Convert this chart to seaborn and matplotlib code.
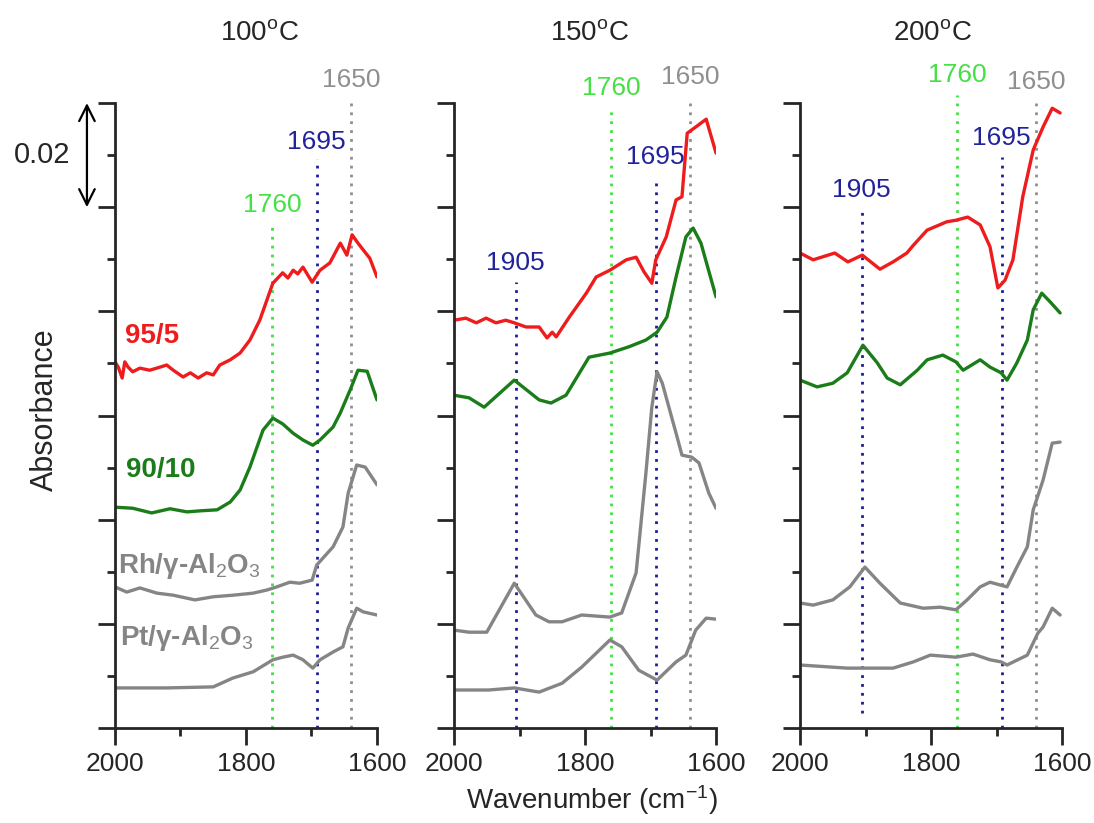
import matplotlib
matplotlib.use("Agg")
import matplotlib.pyplot as plt
import seaborn as sns

# spectra; absorbance in units of 0.01 (one y tick), offset stacked
temps = ["100", "150", "200"]

# 100 C
p100_red_wn = [2000, 1995, 1989, 1985, 1980, 1973, 1962, 1947, 1931, 1921, 1911, 1896, 1885, 1873, 1860,
               1850, 1840, 1824, 1809, 1794, 1779, 1768, 1759, 1744, 1736, 1728, 1721, 1713, 1699, 1687,
               1672, 1656, 1646, 1638, 1629, 1621, 1611, 1600]
p100_red_y = [7.03, 6.93, 6.72, 7.03, 6.93, 6.84, 6.91, 6.87, 6.93, 6.97, 6.87, 6.74, 6.82, 6.72, 6.82,
              6.78, 6.97, 7.07, 7.20, 7.45, 7.83, 8.22, 8.54, 8.74, 8.64, 8.79, 8.72, 8.85, 8.56, 8.79,
              8.93, 9.31, 9.08, 9.47, 9.31, 9.18, 9.02, 8.66]
p100_green_wn = [2000, 1973, 1944, 1916, 1890, 1870, 1844, 1824, 1809, 1794, 1774, 1759, 1744, 1728, 1713,
                 1698, 1687, 1667, 1656, 1641, 1629, 1615, 1600]
p100_green_y = [4.24, 4.22, 4.13, 4.21, 4.15, 4.17, 4.19, 4.34, 4.57, 5.01, 5.72, 5.95, 5.84, 5.66, 5.53,
                5.43, 5.53, 5.78, 6.05, 6.49, 6.87, 6.85, 6.30]
p100_rh_wn = [2000, 1982, 1962, 1936, 1911, 1878, 1850, 1820, 1789, 1768, 1753, 1733, 1718, 1699, 1692,
              1667, 1652, 1644, 1631, 1618, 1600]
p100_rh_y = [2.71, 2.61, 2.69, 2.59, 2.55, 2.46, 2.52, 2.55, 2.59, 2.65, 2.71, 2.80, 2.78, 2.84, 3.13,
             3.48, 3.86, 4.51, 5.05, 5.01, 4.67]
p100_pt_wn = [2000, 1921, 1850, 1820, 1789, 1759, 1744, 1728, 1713, 1698, 1687, 1667, 1652, 1644, 1631,
              1621, 1600]
p100_pt_y = [0.77, 0.77, 0.79, 0.96, 1.08, 1.31, 1.36, 1.40, 1.31, 1.15, 1.31, 1.46, 1.56, 1.92, 2.30,
             2.23, 2.17]

# 150 C
p150_red_wn = [2000, 1982, 1966, 1951, 1936, 1921, 1908, 1890, 1870, 1858, 1850, 1844, 1824, 1798, 1783,
               1762, 1737, 1722, 1710, 1698, 1692, 1676, 1661, 1652, 1644, 1631, 1615, 1600]
p150_red_y = [7.83, 7.87, 7.78, 7.87, 7.78, 7.83, 7.78, 7.70, 7.70, 7.49, 7.60, 7.51, 7.89, 8.35, 8.66,
              8.79, 8.99, 9.04, 8.76, 8.54, 8.99, 9.43, 10.14, 10.20, 11.42, 11.54, 11.69, 11.04]
p150_green_wn = [2000, 1977, 1954, 1908, 1870, 1852, 1829, 1794, 1762, 1733, 1707, 1690, 1675, 1661, 1646,
                 1635, 1623, 1600]
p150_green_y = [6.39, 6.34, 6.16, 6.68, 6.30, 6.24, 6.39, 7.12, 7.20, 7.32, 7.45, 7.60, 7.89, 8.66, 9.43,
                9.60, 9.31, 8.28]
p150_rh_wn = [2000, 1977, 1950, 1908, 1875, 1855, 1835, 1805, 1762, 1744, 1722, 1707, 1698, 1690, 1682,
              1661, 1652, 1637, 1626, 1611, 1600]
p150_rh_y = [1.88, 1.84, 1.84, 2.78, 2.17, 2.04, 2.04, 2.17, 2.13, 2.21, 2.98, 4.90, 6.16, 6.84, 6.62,
             5.66, 5.24, 5.20, 5.09, 4.51, 4.22]
p150_pt_wn = [2000, 1947, 1908, 1870, 1835, 1805, 1762, 1744, 1718, 1690, 1661, 1646, 1631, 1615, 1600]
p150_pt_y = [0.73, 0.73, 0.77, 0.69, 0.86, 1.17, 1.69, 1.56, 1.11, 0.92, 1.27, 1.40, 1.88, 2.11, 2.09]

# 200 C
p200_red_wn = [2000, 1980, 1947, 1927, 1905, 1878, 1858, 1837, 1827, 1806, 1776, 1762, 1744, 1725, 1710,
               1698, 1687, 1675, 1660, 1644, 1629, 1615, 1603]
p200_red_y = [9.12, 8.99, 9.12, 8.95, 9.08, 8.81, 8.95, 9.12, 9.27, 9.56, 9.72, 9.75, 9.81, 9.66, 9.24,
              8.45, 8.60, 8.99, 10.20, 11.10, 11.54, 11.90, 11.81]
p200_green_wn = [2000, 1974, 1950, 1928, 1904, 1882, 1867, 1847, 1821, 1806, 1782, 1762, 1751, 1725, 1710,
                 1693, 1684, 1669, 1653, 1644, 1631, 1618, 1603]
p200_green_y = [6.68, 6.55, 6.62, 6.82, 7.35, 7.01, 6.72, 6.59, 6.87, 7.07, 7.16, 7.03, 6.87, 7.07, 6.93,
                6.82, 6.68, 7.01, 7.45, 8.03, 8.35, 8.18, 7.97]
p200_rh_wn = [2000, 1980, 1950, 1924, 1901, 1878, 1847, 1812, 1786, 1762, 1745, 1725, 1710, 1684, 1669,
              1653, 1644, 1629, 1615, 1603]
p200_rh_y = [2.40, 2.36, 2.46, 2.71, 3.09, 2.78, 2.40, 2.30, 2.32, 2.27, 2.46, 2.71, 2.80, 2.71, 3.09,
             3.48, 4.19, 4.76, 5.47, 5.49]
p200_pt_wn = [2000, 1928, 1858, 1827, 1801, 1762, 1736, 1710, 1693, 1684, 1653, 1637, 1629, 1615, 1603]
p200_pt_y = [1.21, 1.15, 1.15, 1.27, 1.40, 1.36, 1.42, 1.31, 1.27, 1.21, 1.40, 1.82, 1.94, 2.30, 2.17]

# peak markers: line position, label, top of line, label height
peak_pos = {"1905": 1906, "1760": 1760, "1695": 1692, "1650": 1640}
peaks_100 = [("1760", 9.66, 10.04), ("1695", 10.93, 11.25), ("1650", 12.0, 12.44)]
peaks_150 = [("1905", 8.56, 8.93), ("1760", 11.87, 12.29), ("1695", 10.52, 10.96), ("1650", 12.02, 12.5)]
peaks_200 = [("1905", 9.95, 10.33), ("1760", 12.15, 12.54), ("1695", 10.96, 11.33), ("1650", 12.0, 12.4)]

sample_names = ["95/5", "90/10", "Rh/γ-Al$_2$O$_3$", "Pt/γ-Al$_2$O$_3$"]

RED = "#ee1c1c"
GREEN = "#1a7d1a"
GREY = "#858585"
peak_colors = {"1905": "#1c1c9c", "1760": "#3fe03f", "1695": "#1c1c9c", "1650": "#8f8f8f"}
label_colors = {"1905": "#22229a", "1760": "#44e044", "1695": "#22229a", "1650": "#8f8f8f"}

sns.set_style("ticks")
plt.rcParams["font.family"] = ["Liberation Sans", "DejaVu Sans"]
plt.rcParams["mathtext.fontset"] = "custom"
plt.rcParams["mathtext.rm"] = "Liberation Sans"
plt.rcParams["mathtext.it"] = "Liberation Sans:italic"
plt.rcParams["mathtext.bf"] = "Liberation Sans:bold"

fig = plt.figure(figsize=(10.94, 8.23), dpi=100)
lefts = [0.1051, 0.415, 0.7313]
width = 0.2395

panels = [
    [(p100_red_wn, p100_red_y, RED), (p100_green_wn, p100_green_y, GREEN),
     (p100_rh_wn, p100_rh_y, GREY), (p100_pt_wn, p100_pt_y, GREY)],
    [(p150_red_wn, p150_red_y, RED), (p150_green_wn, p150_green_y, GREEN),
     (p150_rh_wn, p150_rh_y, GREY), (p150_pt_wn, p150_pt_y, GREY)],
    [(p200_red_wn, p200_red_y, RED), (p200_green_wn, p200_green_y, GREEN),
     (p200_rh_wn, p200_rh_y, GREY), (p200_pt_wn, p200_pt_y, GREY)],
]
peak_sets = [peaks_100, peaks_150, peaks_200]

axes = []
for i in range(3):
    ax = fig.add_axes([lefts[i], 0.1154, width, 0.7594])
    axes.append(ax)
    for wn, y, col in panels[i]:
        sns.lineplot(x=wn, y=y, ax=ax, color=col, lw=2.4)

    for name, top, lab_y in peak_sets[i]:
        xp = peak_pos[name]
        bottom = 0.29 if (i == 2 and name == "1905") else 0
        ax.plot([xp, xp], [bottom, top], color=peak_colors[name], lw=2,
                linestyle=(0, (1, 2.2)), clip_on=False, zorder=1)
        ax.text(xp, lab_y, name, color=label_colors[name], fontsize=19,
                ha="center", va="center", clip_on=False)

    ax.set_xlim(2000, 1600)
    ax.set_ylim(0, 12)
    ax.set_xticks([2000, 1800, 1600])
    ax.set_xticks([1900, 1700], minor=True)
    ax.set_xticklabels(["2000", "1800", "1600"])
    ax.set_yticks(range(0, 13, 2))
    ax.set_yticks(range(1, 13, 2), minor=True)
    ax.set_yticklabels([])
    ax.tick_params(which="major", direction="out", length=12, width=2, labelsize=19, pad=5)
    ax.tick_params(which="minor", direction="out", length=6, width=2)
    for side in ["top", "right"]:
        ax.spines[side].set_visible(False)
    for side in ["left", "bottom"]:
        ax.spines[side].set_linewidth(2)
    ax.set_xlabel("")
    ax.set_ylabel("")

# title per panel
title_x = [0.237, 0.539, 0.852]
for t, tx in zip(temps, title_x):
    fig.text(tx, 0.96, t + r"$^{\rm o}$C", fontsize=20, ha="center", va="center")

# sample labels in first panel
ax0 = axes[0]
ax0.text(1985, 7.39, sample_names[0], color=RED, fontsize=20, fontweight="bold", va="baseline")
ax0.text(1983, 4.82, sample_names[1], color=GREEN, fontsize=20, fontweight="bold", va="baseline")
ax0.text(1995, 2.98, sample_names[2], color=GREY, fontsize=20, fontweight="bold", va="baseline")
ax0.text(1992, 1.59, sample_names[3], color=GREY, fontsize=20, fontweight="bold", va="baseline")

# scale bar
ax0.annotate("", xy=(-0.107, 12), xytext=(-0.107, 10), xycoords=ax0.get_yaxis_transform(),
             textcoords=ax0.get_yaxis_transform(),
             arrowprops=dict(arrowstyle="<->", lw=1.6, color="black", mutation_scale=28,
                             shrinkA=0, shrinkB=0), annotation_clip=False)
ax0.text(-0.279, 11, "0.02", transform=ax0.get_yaxis_transform(), fontsize=21,
         ha="center", va="center")

fig.text(0.041, 0.502, "Absorbance", rotation=90, fontsize=22, ha="center", va="center")
fig.text(0.541, 0.028, "Wavenumber (cm$^{-1}$)", fontsize=20, ha="center", va="center")

fig.savefig("out.png", dpi=100)
